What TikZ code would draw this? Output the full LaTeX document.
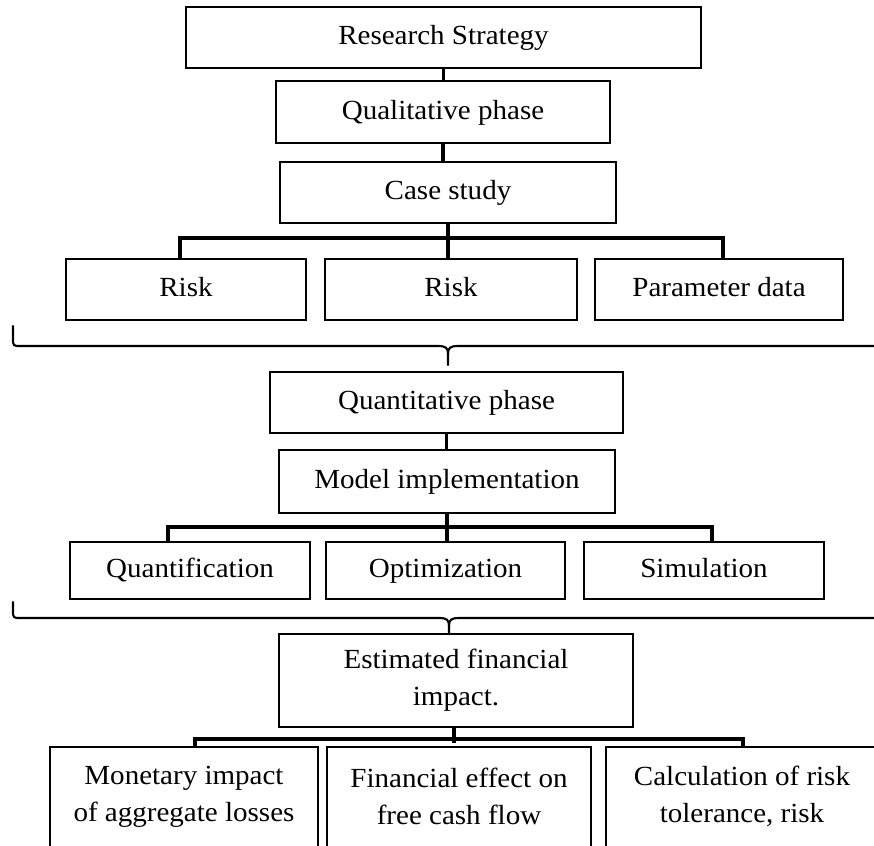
\documentclass[tikz,border=0pt]{standalone}
\usepackage{fontspec}
\setmainfont[FakeStretch=1.05]{Liberation Serif}
\tikzset{
    cell/.style = {rectangle, draw=black, line width=1.7pt, align=center, inner sep=2pt, minimum height=1.83cm, font=\fontsize{23.6}{31.5}\selectfont},
    mybox/.style = {cell, text height=17pt, text depth=4.5pt},
    myboxb/.style = {cell, minimum height=3cm},
    edgel/.style = {line width=2.6pt, draw=black},
    bracel/.style = {line width=1.8pt, draw=black, line cap=round},
}
\begin{document}
\begin{tikzpicture}[x=0.03cm, y=-0.03cm]
\useasboundingbox (0,0) rectangle (874,845);
\node[mybox, minimum width=15.45cm] at (443.5, 37.5) (rs) {Research Strategy};
\node[mybox, minimum width=10.02cm, minimum height=1.86cm] at (443, 112) (qp) {Qualitative phase};
\node[mybox, minimum width=10.08cm] at (448, 192.5) (cs) {Case study};
\node[mybox, minimum width=7.2cm] at (186, 289.5) (r1) {Risk};
\node[mybox, minimum width=7.56cm] at (451, 289.5) (r2) {Risk};
\node[mybox, minimum width=7.44cm] at (719, 289.5) (pd) {Parameter data};
%
\node[mybox, minimum width=10.59cm] at (446.5, 402.5) (qn) {Quantitative phase};
\node[mybox, minimum width=10.08cm, minimum height=1.89cm] at (447, 481.5) (mi) {Model implementation};
\node[mybox, minimum width=7.2cm, minimum height=1.71cm] at (190, 570.5) (qf) {Quantification};
\node[mybox, minimum width=7.17cm, minimum height=1.71cm] at (445.5, 570.5) (op) {Optimization};
\node[mybox, minimum width=7.2cm, minimum height=1.71cm] at (704, 570.5) (sm) {Simulation};
%
\node[cell, minimum width=10.62cm, minimum height=2.79cm] at (456, 680.5) (efi) {Estimated financial\\impact.};
\node[myboxb, minimum width=8.04cm] at (184, 796.5) (mon) {Monetary impact\\of aggregate losses};
\node[myboxb, minimum width=7.92cm] at (459, 796.5) (fin) {Financial effect on\\free cash flow};
\node[myboxb, minimum width=8.16cm] at (742, 796.5) (calc) {Calculation of risk\\tolerance, risk};
%
\coordinate (d1) at (180, 238);
\coordinate (d3) at (723, 238);
\coordinate (d4) at (168, 527);
\coordinate (d6) at (712, 527);
\coordinate (d7) at (195, 739);
\coordinate (j3) at (454, 739);
\coordinate (d9) at (743, 739);
%
\draw[edgel] (rs.south) -- (rs.south |- qp.north);
\draw[edgel] (qp.south) -- (qp.south |- cs.north);
\draw[edgel] (cs.south) -- (cs.south |- r2.north);
\draw[edgel] (r1.north -| d1) -- (d1) -- (d3) -- (pd.north -| d3);
\draw[edgel] (qn.south) -- (qn.south |- mi.north);
\draw[edgel] (mi.south) -- (mi.south |- op.north);
\draw[edgel] (qf.north -| d4) -- (d4) -- (d6) -- (sm.north -| d6);
\draw[edgel] (efi.south -| j3) -- ([yshift=-0.12cm]j3);
\draw[edgel] (mon.north -| d7) -- (d7) -- (d9) -- (calc.north -| d9);
% braces
\draw[bracel] (13,326) -- (13,338) .. controls (13,346) .. (21,346) -- (438,346) .. controls (446,346) and (448,348) .. (448,354) -- (448,365);
\draw[bracel] (448,354) .. controls (448,348) and (450,346) .. (458,346) -- (880,346);
\draw[bracel] (13,602) -- (13,610) .. controls (13,618) .. (21,618) -- (439,618) .. controls (447,618) and (449,620) .. (449,626) -- (449,633);
\draw[bracel] (449,626) .. controls (449,620) and (451,618) .. (459,618) -- (880,618);
\end{tikzpicture}
\end{document}
